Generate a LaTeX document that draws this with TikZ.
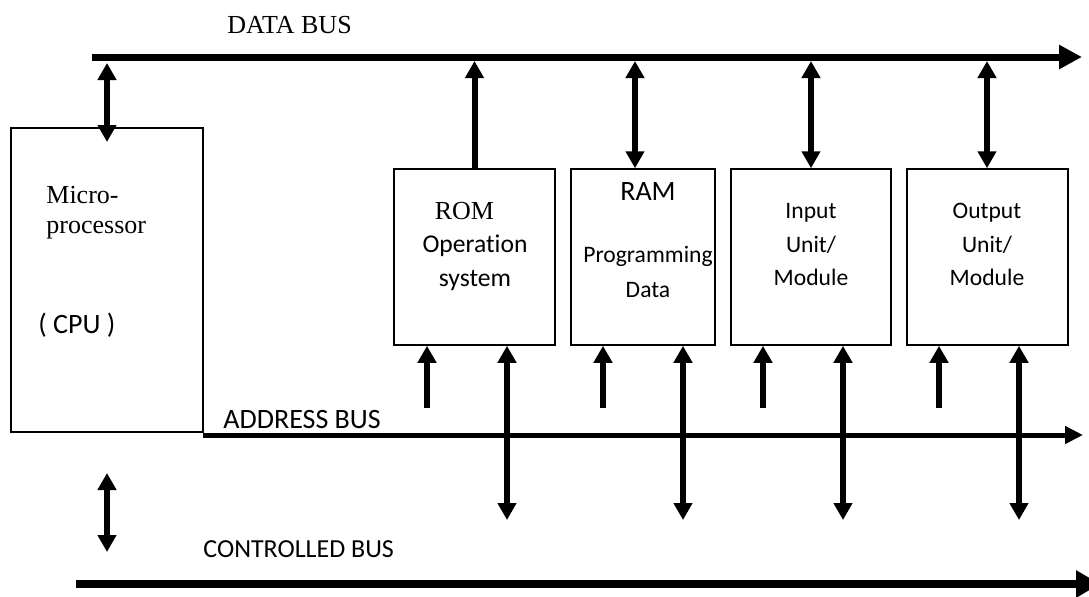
\documentclass[tikz,border=0pt]{standalone}
\usepackage{fontspec}
\setmainfont{Liberation Serif}
\newfontfamily\calibri[Ligatures=NoCommon]{Carlito}
\usetikzlibrary{arrows.meta}

\newcommand{\fs}[1]{\fontsize{#1}{#1}\selectfont}

\begin{document}
\begin{tikzpicture}[x=0.5pt,y=-0.5pt,
    box/.style={draw,line width=0.75pt,inner sep=0pt},
    txt/.style={inner sep=0pt,anchor=base},
    shaft/.style={line width=3pt},
    upar/.style={shaft,-{Triangle[width=9pt,length=8.5pt]}},
    dblar/.style={shaft,{Triangle[width=9pt,length=8.5pt]}-{Triangle[width=9pt,length=8.5pt]}}]
    \useasboundingbox (0,0) rectangle (1089,596);

    % the units
    \node[box,minimum width=96pt,minimum height=152pt] (cpu) at (107,280) {};
    \node[box,minimum width=80.5pt,minimum height=88pt] (rom) at (474.5,257) {};
    \node[box,minimum width=72pt,minimum height=88pt] (ram) at (643,257) {};
    \node[box,minimum width=80pt,minimum height=88pt] (inp) at (811,257) {};
    \node[box,minimum width=80.5pt,minimum height=88pt] (out) at (987.5,257) {};

    % texts
    \node[txt,anchor=base west] (t-db) at (227,33) {\fs{13pt}DATA BUS};
    \node[txt,anchor=base west] (t-cpu1) at (46,203) {\fs{13pt}Micro-};
    \node[txt,anchor=base west] (t-cpu2) at (46,233) {\fs{13pt}processor};
    \node[txt,anchor=base west] (t-cpu3) at (38,333) {\calibri\fs{14pt}( CPU )};
    \node[txt] (t-rom1) at (464.5,219) {\fs{13pt}ROM};
    \node[txt] (t-rom2) at (475,252) {\calibri\fs{12.8pt}Operation};
    \node[txt] (t-rom3) at (475,286) {\calibri\fs{12.8pt}system};
    \node[txt] (t-ram1) at (648,200) {\calibri\fs{14pt}RAM};
    \node[txt] (t-ram2) at (648,262) {\calibri\fs{11.8pt}Programming};
    \node[txt] (t-ram3) at (648,297) {\calibri\fs{11.8pt}Data};
    \foreach \b/\x/\w in {inp/811/Input, out/987/Output} {
        \node[txt] (t-\b1) at (\x,218) {\calibri\fs{11.8pt}\w};
        \node[txt] (t-\b2) at (\x,252) {\calibri\fs{11.8pt}Unit/};
        \node[txt] (t-\b3) at (\x,285) {\calibri\fs{11.8pt}Module};
    }
    \node[txt,anchor=base west] (t-ab) at (223,428) {\calibri\fs{14pt}ADDRESS BUS};
    \node[txt,anchor=base west] (t-cb) at (203,557) {\calibri\fs{13pt}CONTROLLED BUS};

    % buses
    \coordinate (db-w) at (92,57);
    \coordinate (db-e) at (1082,57);
    \coordinate (db-low) at (0,61);
    \draw[line width=3.5pt,-{Triangle[width=11.5pt,length=11.5pt]}] (db-w) -- (db-e);
    \coordinate (ab-w) at (203,435);
    \coordinate (ab-e) at (1083,435);
    \draw[line width=2.5pt,-{Triangle[width=8.5pt,length=9pt]}] (ab-w) -- (ab-e);
    \coordinate (cb-w) at (76,584);
    \coordinate (cb-e) at (1100,584);
    \draw[line width=4pt,-{Triangle[width=13pt,length=12pt]}] (cb-w) -- (cb-e);

    % cpu links
    \coordinate (cpu-d) at (107,63);
    \coordinate (cpu-in) at (107,142);
    \draw[dblar] (cpu-d) -- (cpu-in);
    \coordinate (cb-up) at (107,473);
    \coordinate (cb-dn) at (107,552);
    \draw[dblar] (cb-up) -- (cb-dn);

    % data bus links
    \draw[upar] (rom.north) -- (rom.north |- db-low);
    \foreach \b/\x in {ram/635, inp/811, out/987} {
        \coordinate (\b-d) at (\x,61);
        \draw[dblar] (\b-d |- \b.north) -- (\b-d);
    }

    % address / control links
    \foreach \b/\s/\l in {rom/427/507, ram/603/683, inp/763/843, out/939/1019} {
        \coordinate (\b-s) at (\s,408);
        \coordinate (\b-l) at (\l,520);
        \draw[upar] (\b-s) -- (\b-s |- \b.south);
        \draw[dblar] (\b-l |- \b.south) -- (\b-l);
    }
\end{tikzpicture}
\end{document}
